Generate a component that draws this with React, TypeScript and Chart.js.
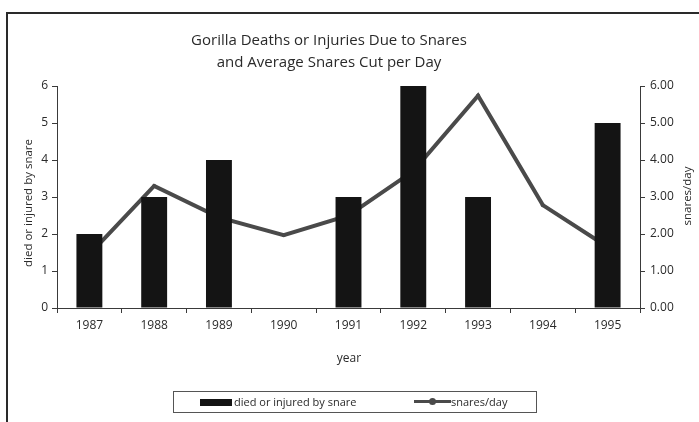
import React, { useEffect, useRef } from "react";
import { Chart, registerables } from "chart.js";

Chart.register(...registerables);

const years = ["1987", "1988", "1989", "1990", "1991", "1992", "1993", "1994", "1995"];
const diedOrInjured = [2, 3, 4, 0, 3, 6, 3, 0, 5];
const snaresPerDay = [1.45, 3.3, 2.45, 1.97, 2.5, 3.7, 5.74, 2.78, 1.65];
const titleLines = ["Gorilla Deaths or Injuries Due to Snares", "and Average Snares Cut per Day"];
const barLabel = "died or injured by snare";
const lineLabel = "snares/day";
const xTitle = "year";
const yLeftTitle = "died or injured by snare";
const yRightTitle = "snares/day";

const FONT = '"Open Sans", "DejaVu Sans", sans-serif';
const TEXT = "#2a2a2a";
const AXIS = "#3a3a3a";
const BAR = "#141414";
const LINE = "#4a4a4a";

const textPlugin = {
  id: "texts",
  afterDraw(chart: any) {
    const ctx = chart.ctx;
    ctx.save();
    ctx.fillStyle = TEXT;
    ctx.textAlign = "center";
    ctx.textBaseline = "middle";
    ctx.font = `15px ${FONT}`;
    ctx.fillText(titleLines[0], 329, 41);
    ctx.fillText(titleLines[1], 329, 63);
    ctx.font = `12px ${FONT}`;
    ctx.fillText(xTitle, 349, 359);
    ctx.save();
    ctx.translate(29, 203);
    ctx.rotate(-Math.PI / 2);
    ctx.font = `11.5px ${FONT}`;
    ctx.fillText(yLeftTitle, 0, 0);
    ctx.restore();
    ctx.save();
    ctx.translate(688, 196);
    ctx.rotate(-Math.PI / 2);
    ctx.font = `11.5px ${FONT}`;
    ctx.fillText(yRightTitle, 0, 0);
    ctx.restore();
    ctx.restore();
  },
};

export default function App() {
  const ref = useRef<HTMLCanvasElement | null>(null);

  useEffect(() => {
    if (!ref.current) return;
    const chart = new Chart(ref.current, {
      type: "bar",
      data: {
        labels: years,
        datasets: [
          {
            type: "bar",
            label: barLabel,
            data: diedOrInjured,
            backgroundColor: BAR,
            borderWidth: 0,
            barPercentage: 0.4,
            categoryPercentage: 1,
            yAxisID: "y",
            order: 0,
          },
          {
            type: "line",
            label: lineLabel,
            data: snaresPerDay,
            borderColor: LINE,
            backgroundColor: LINE,
            borderWidth: 4,
            pointRadius: 2,
            pointBackgroundColor: LINE,
            pointBorderWidth: 0,
            tension: 0,
            yAxisID: "y1",
            order: 1,
          } as any,
        ],
      },
      options: {
        animation: false,
        responsive: false,
        maintainAspectRatio: false,
        layout: { padding: { top: 86, left: 0, right: 0, bottom: 0 } },
        plugins: {
          legend: { display: false },
          title: { display: false },
          tooltip: { enabled: false },
        },
        scales: {
          x: {
            afterFit: (s: any) => {
              s.height = 422 - 308;
            },
            grid: {
              display: true,
              drawOnChartArea: false,
              drawTicks: true,
              tickLength: 5,
              color: AXIS,
              offset: true,
            },
            border: { display: true, color: AXIS, width: 1 },
            ticks: { color: TEXT, font: { family: FONT, size: 12 }, padding: 5, maxRotation: 0 },
          },
          y: {
            position: "left",
            min: 0,
            max: 6,
            afterFit: (s: any) => {
              s.width = 57;
            },
            grid: { display: true, drawOnChartArea: false, tickLength: 5, color: AXIS },
            border: { display: true, color: AXIS, width: 1 },
            ticks: { stepSize: 1, color: TEXT, font: { family: FONT, size: 12 }, padding: 4 },
          },
          y1: {
            position: "right",
            min: 0,
            max: 6,
            afterFit: (s: any) => {
              s.width = 699 - 640;
            },
            grid: { display: true, drawOnChartArea: false, tickLength: 5, color: AXIS },
            border: { display: true, color: AXIS, width: 1 },
            ticks: {
              stepSize: 1,
              color: TEXT,
              font: { family: FONT, size: 12 },
              padding: 5,
              callback: (v: any) => Number(v).toFixed(2),
            },
          },
        },
      },
      plugins: [textPlugin],
    });
    return () => chart.destroy();
  }, []);

  return (
    <div
      style={{
        position: "absolute",
        left: 0,
        top: 0,
        width: 699,
        height: 422,
        overflow: "hidden",
        background: "#fff",
      }}
    >
      <canvas ref={ref} width={699} height={422} style={{ position: "absolute", left: 0, top: 0 }} />
      <div
        style={{
          position: "absolute",
          left: 6,
          top: 12,
          width: 800,
          height: 600,
          border: "2px solid #2a2a2a",
          boxSizing: "border-box",
          pointerEvents: "none",
        }}
      />
      <div
        style={{
          position: "absolute",
          left: 173,
          top: 391,
          width: 364,
          height: 22,
          border: "1px solid #555",
          boxSizing: "border-box",
          fontFamily: FONT,
          fontSize: 11,
          color: TEXT,
        }}
      >
        <div style={{ position: "absolute", left: 26, top: 7, width: 32, height: 7, background: BAR }} />
        <div style={{ position: "absolute", left: 60, top: 2, lineHeight: "16px", whiteSpace: "nowrap" }}>{barLabel}</div>
        <div style={{ position: "absolute", left: 240, top: 8, width: 37, height: 3, background: LINE }} />
        <div
          style={{
            position: "absolute",
            left: 255,
            top: 6,
            width: 7,
            height: 7,
            borderRadius: "50%",
            background: LINE,
          }}
        />
        <div style={{ position: "absolute", left: 277, top: 2, lineHeight: "16px", whiteSpace: "nowrap" }}>{lineLabel}</div>
      </div>
    </div>
  );
}
